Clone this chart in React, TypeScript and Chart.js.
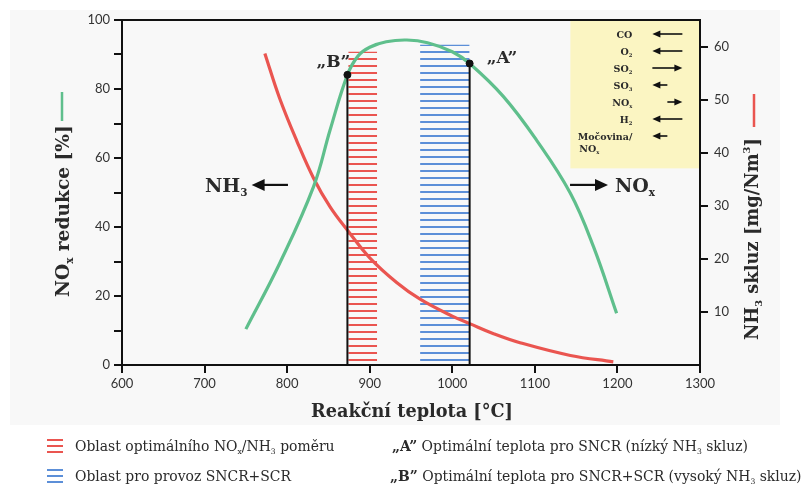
import React, { useEffect, useRef } from 'react';
import { Chart, registerables } from 'chart.js';
Chart.register(...registerables);

// ---------- data ----------
const xTickValues = [600, 700, 800, 900, 1000, 1100, 1200, 1300];
const noxTemps = [750, 791, 832, 852, 873, 886, 900, 920, 945, 970, 1000, 1021, 1062, 1102, 1143, 1171, 1199];
const noxReduction = [10.4, 29.5, 51.7, 68.1, 84.1, 89.6, 92.1, 93.7, 94.2, 93.4, 90.8, 87.4, 77.8, 65.2, 49.8, 34.3, 15.0];
const nh3Temps = [773, 791, 812, 832, 852, 874, 900, 933, 961, 1000, 1021, 1050, 1082, 1143, 1195];
const nh3Slip = [58.7, 50.2, 42.1, 35.2, 29.8, 25.2, 20.2, 15.5, 12.4, 9.2, 7.8, 5.9, 4.2, 1.8, 0.6];
const ratioZone = [874, 909];
const ratioZoneTop = 90.8;
const sncrScrZone = [961, 1021];
const sncrScrZoneTop = 92.8;
const pointNames = ['„B”', '„A”'];
const pointTemps = [873, 1021];
const pointValues = [84.1, 87.4];
const boxSpecies = ['CO', 'O_2', 'SO_2', 'SO_3', 'NO_x', 'H_2', 'Močovina/'];
const boxDirections = [-1, -1, 1, -1, 1, -1, -1];
const boxLong = [true, true, true, false, false, true, false];
const boxLeftTemp = 1143;
const boxBottomValue = 57;

const GREEN = '#5fbf8c';
const RED = '#ea5550';
const BLUE = '#5c8fd8';
const SERIF = '"DejaVu Serif", serif';
const TEXT = '#2a2a2a';

type Seg = { t: string; sub?: boolean; sup?: boolean; bold?: boolean };
function parse(s: string): Seg[] {
  const out: Seg[] = [];
  let bold = false;
  let buf = '';
  const flush = () => { if (buf) { out.push({ t: buf, bold }); buf = ''; } };
  for (let i = 0; i < s.length; i++) {
    const c = s[i];
    if (c === '*') { flush(); bold = !bold; }
    else if (c === '_' || c === '^') { flush(); out.push({ t: s[i + 1], sub: c === '_', sup: c === '^', bold }); i++; }
    else buf += c;
  }
  flush();
  return out;
}
function fontFor(seg: Seg, size: number, bold: boolean) {
  const w = (seg.bold || bold) ? 'bold ' : '';
  const sz = (seg.sub || seg.sup) ? size * 0.55 : size;
  return `${w}${sz}px ${SERIF}`;
}
function richWidth(ctx: CanvasRenderingContext2D, segs: Seg[], size: number, bold: boolean) {
  let w = 0;
  for (const s of segs) { ctx.font = fontFor(s, size, bold); w += ctx.measureText(s.t).width; }
  return w;
}
function drawRich(ctx: CanvasRenderingContext2D, str: string, x: number, y: number, size: number, bold: boolean, align: string, color = TEXT) {
  const segs = parse(str);
  const w = richWidth(ctx, segs, size, bold);
  let cx = align === 'center' ? x - w / 2 : align === 'right' ? x - w : x;
  ctx.fillStyle = color;
  ctx.textAlign = 'left';
  ctx.textBaseline = 'alphabetic';
  for (const s of segs) {
    ctx.font = fontFor(s, size, bold);
    const dy = s.sub ? size * 0.22 : s.sup ? -size * 0.45 : 0;
    ctx.fillText(s.t, cx, y + dy);
    cx += ctx.measureText(s.t).width;
  }
  return w;
}
function fitSize(ctx: CanvasRenderingContext2D, str: string, target: number, bold: boolean) {
  return (20 * target) / richWidth(ctx, parse(str), 20, bold);
}
function arrow(ctx: CanvasRenderingContext2D, x1: number, x2: number, y: number, lw: number, hl: number, hw: number) {
  const dir = Math.sign(x2 - x1);
  ctx.strokeStyle = '#111';
  ctx.fillStyle = '#111';
  ctx.lineWidth = lw;
  ctx.beginPath();
  ctx.moveTo(x1, y);
  ctx.lineTo(x2 - dir * hl * 0.8, y);
  ctx.stroke();
  ctx.beginPath();
  ctx.moveTo(x2, y);
  ctx.lineTo(x2 - dir * hl, y - hw);
  ctx.lineTo(x2 - dir * hl, y + hw);
  ctx.closePath();
  ctx.fill();
}

function hatch(color: string) {
  const c = document.createElement('canvas');
  c.width = 8;
  c.height = 7;
  const g = c.getContext('2d')!;
  g.fillStyle = color;
  g.fillRect(0, 2, 8, 2);
  return g.createPattern(c, 'repeat')!;
}

const annotPlugin = {
  id: 'annot',
  beforeDraw(chart: any) {
    const ctx = chart.ctx as CanvasRenderingContext2D;
    ctx.save();
    ctx.fillStyle = '#ffffff';
    ctx.fillRect(0, 0, chart.width, chart.height);
    ctx.fillStyle = '#f8f8f8';
    ctx.fillRect(10, 10, 770, 415);
    ctx.restore();
  },
  afterDraw(chart: any) {
    const ctx = chart.ctx as CanvasRenderingContext2D;
    const xs = chart.scales.x;
    const ys = chart.scales.y;
    const area = chart.chartArea;
    ctx.save();

    // yellow box
    const bx = xs.getPixelForValue(boxLeftTemp);
    const bb = ys.getPixelForValue(boxBottomValue);
    ctx.fillStyle = '#fbf5c2';
    ctx.fillRect(bx, area.top, area.right - bx, bb - area.top);
    const fs = 9.5;
    boxSpecies.forEach((sp, i) => {
      const yy = area.top + 14 + i * 17;
      drawRich(ctx, sp, bx + 62, yy + 3.5, fs, true, 'right');
      const aL = bx + 82, aR = bx + 112, aM = bx + 97;
      if (boxDirections[i] < 0) arrow(ctx, boxLong[i] ? aR : aM, aL, yy, 1.6, 8, 3.6);
      else arrow(ctx, boxLong[i] ? aL : aM, aR, yy, 1.6, 8, 3.6);
    });
    drawRich(ctx, 'NO_x', bx + 9, area.top + 14 + 7 * 17 - 1, fs, true, 'left');

    // frame top and right
    ctx.strokeStyle = '#111';
    ctx.lineWidth = 2;
    ctx.beginPath();
    ctx.moveTo(area.left - 8, area.top);
    ctx.lineTo(area.right, area.top);
    ctx.lineTo(area.right, area.bottom);
    ctx.stroke();

    // point labels
    const pb = { x: xs.getPixelForValue(pointTemps[0]), y: ys.getPixelForValue(pointValues[0]) };
    const pa = { x: xs.getPixelForValue(pointTemps[1]), y: ys.getPixelForValue(pointValues[1]) };
    drawRich(ctx, pointNames[0], pb.x - 14, pb.y - 8, 17, true, 'center');
    drawRich(ctx, pointNames[1], pa.x + 17, pa.y + 0, 17, true, 'left');

    // NH3 / NOx arrows
    const ay = ys.getPixelForValue(52.2);
    drawRich(ctx, 'NH_3', xs.getPixelForValue(700.5), ay + 7, 19, true, 'left');
    arrow(ctx, xs.getPixelForValue(801), xs.getPixelForValue(757), ay, 2.2, 13, 6);
    arrow(ctx, xs.getPixelForValue(1142.6), xs.getPixelForValue(1188.6), ay, 2.2, 13, 6);
    drawRich(ctx, 'NO_x', xs.getPixelForValue(1197), ay + 7, 19, true, 'left');

    // axis titles
    const lt = 'NO_x redukce [%]';
    const ls = fitSize(ctx, lt, 172, true);
    ctx.save();
    ctx.translate(62 + ls * 0.36, 297);
    ctx.rotate(-Math.PI / 2);
    drawRich(ctx, lt, 0, 0, ls, true, 'left');
    ctx.restore();
    ctx.strokeStyle = GREEN;
    ctx.lineWidth = 2.5;
    ctx.beginPath();
    ctx.moveTo(62, 92);
    ctx.lineTo(62, 121);
    ctx.stroke();

    const rt = 'NH_3 skluz [mg/Nm^3]';
    const rs = fitSize(ctx, rt, 202, true);
    ctx.save();
    ctx.translate(752 + rs * 0.36, 340);
    ctx.rotate(-Math.PI / 2);
    drawRich(ctx, rt, 0, 0, rs, true, 'left');
    ctx.restore();
    ctx.strokeStyle = RED;
    ctx.lineWidth = 2.5;
    ctx.beginPath();
    ctx.moveTo(754, 94);
    ctx.lineTo(754, 127);
    ctx.stroke();

    const xt = 'Reakční teplota [°C]';
    const xsz = fitSize(ctx, xt, 202, true);
    drawRich(ctx, xt, 412, 417, xsz, true, 'center');

    // legend
    const l1 = 'Oblast optimálního NO_x/NH_3 poměru';
    const lsz = fitSize(ctx, l1, 260, false);
    const icon = (x: number, y: number, color: string) => {
      ctx.strokeStyle = color;
      ctx.lineWidth = 2;
      for (let k = -1; k <= 1; k++) {
        ctx.beginPath();
        ctx.moveTo(x, y + k * 6);
        ctx.lineTo(x + 16, y + k * 6);
        ctx.stroke();
      }
    };
    icon(47, 446, RED);
    icon(47, 476, BLUE);
    drawRich(ctx, l1, 75, 451, lsz, false, 'left');
    drawRich(ctx, 'Oblast pro provoz SNCR+SCR', 75, 481, lsz, false, 'left');
    drawRich(ctx, '*„A”* Optimální teplota pro SNCR (nízký NH_3 skluz)', 392, 451, lsz, false, 'left');
    drawRich(ctx, '*„B”* Optimální teplota pro SNCR+SCR (vysoký NH_3 skluz)', 390, 481, lsz, false, 'left');

    ctx.restore();
  },
};

export default function App() {
  const ref = useRef<HTMLCanvasElement>(null);
  useEffect(() => {
    const canvas = ref.current!;
    const pts = (xs: number[], ys: number[]) => xs.map((x, i) => ({ x, y: ys[i] }));
    const zone = (z: number[], top: number) => [
      { x: z[0], y: 0 }, { x: z[0], y: top }, { x: z[1], y: top }, { x: z[1], y: 0 },
    ];
    const tickFont = { family: 'Lato', size: 13 };
    const gridOpts = { drawOnChartArea: false, color: '#111', lineWidth: 2, tickLength: 8 };
    const chart = new Chart(canvas, {
      type: 'line',
      data: {
        datasets: [
          {
            data: pts(pointTemps, pointValues), showLine: false, pointRadius: 3.5,
            pointBackgroundColor: '#111', pointBorderColor: '#111', borderColor: '#111', yAxisID: 'y',
          },
          {
            data: [{ x: pointTemps[0], y: 0 }, { x: pointTemps[0], y: pointValues[0] }],
            borderColor: '#111', borderWidth: 2, pointRadius: 0, yAxisID: 'y',
          },
          {
            data: [{ x: pointTemps[1], y: 0 }, { x: pointTemps[1], y: pointValues[1] }],
            borderColor: '#111', borderWidth: 2, pointRadius: 0, yAxisID: 'y',
          },
          {
            data: pts(noxTemps, noxReduction), borderColor: GREEN, borderWidth: 3.2,
            pointRadius: 0, tension: 0.4, yAxisID: 'y',
          },
          {
            data: pts(nh3Temps, nh3Slip), borderColor: RED, borderWidth: 3.2,
            pointRadius: 0, tension: 0.4, yAxisID: 'y1',
          },
          {
            data: zone(ratioZone, ratioZoneTop), borderColor: 'rgba(0,0,0,0)', pointRadius: 0,
            fill: 'origin', backgroundColor: hatch(RED), yAxisID: 'y', tension: 0,
          },
          {
            data: zone(sncrScrZone, sncrScrZoneTop), borderColor: 'rgba(0,0,0,0)', pointRadius: 0,
            fill: 'origin', backgroundColor: hatch(BLUE), yAxisID: 'y', tension: 0,
          },
        ] as any,
      },
      options: {
        animation: false,
        responsive: false,
        events: [],
        layout: { padding: { top: 20, left: 0, right: 0, bottom: 0 } },
        plugins: { legend: { display: false }, tooltip: { enabled: false } },
        scales: {
          x: {
            type: 'linear', min: 600, max: 1300,
            afterBuildTicks: (s: any) => { s.ticks = xTickValues.map((v) => ({ value: v })); },
            afterFit: (s: any) => { s.height = 125; },
            ticks: { font: tickFont, color: '#333', maxRotation: 0, autoSkip: false, padding: 3, callback: (v: any) => String(v) },
            grid: gridOpts, border: { display: true, color: '#111', width: 2 },
          },
          y: {
            type: 'linear', position: 'left', min: 0, max: 100,
            ticks: { stepSize: 10, font: tickFont, color: '#333', padding: 4, callback: (v: any) => (v % 20 === 0 ? String(v) : '') },
            afterFit: (s: any) => { s.width = 122; },
            grid: gridOpts, border: { display: true, color: '#111', width: 2 },
          },
          y1: {
            type: 'linear', position: 'right', min: 0, max: 65,
            afterBuildTicks: (s: any) => { s.ticks = s.ticks.filter((t: any) => t.value > 0 && t.value % 10 === 0); },
            ticks: { stepSize: 10, font: tickFont, color: '#333', padding: 6, callback: (v: any) => String(v) },
            afterFit: (s: any) => { s.width = 103; },
            grid: gridOpts, border: { display: true, color: '#111', width: 2 },
          },
        },
      } as any,
      plugins: [annotPlugin],
    });
    return () => chart.destroy();
  }, []);
  return (
    <div style={{ position: 'fixed', left: 0, top: 0, width: 803, height: 490, overflow: 'hidden' }}>
      <canvas ref={ref} width={803} height={490} style={{ display: 'block', width: 803, height: 490 }} />
    </div>
  );
}
